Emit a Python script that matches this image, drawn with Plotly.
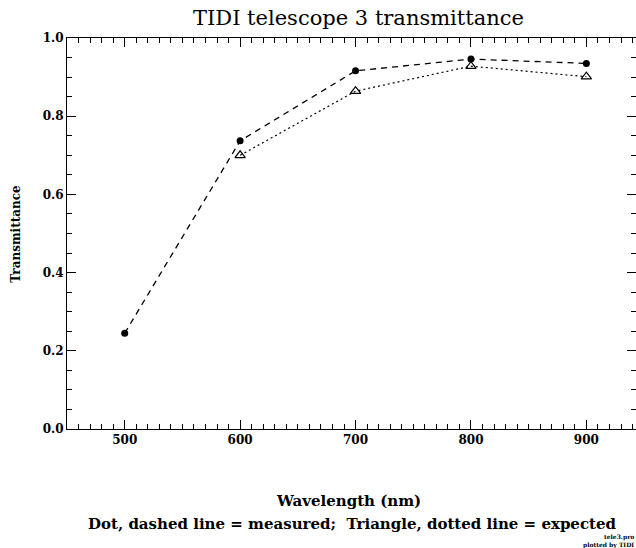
import plotly.graph_objects as go

wavelength = [500, 600, 700, 800, 900]
measured = [0.245, 0.737, 0.916, 0.946, 0.935]
expected_wl = [600, 700, 800, 900]
expected = [0.700, 0.864, 0.928, 0.901]
x_ticks = [500, 600, 700, 800, 900]
y_ticks = [0.0, 0.2, 0.4, 0.6, 0.8, 1.0]

title_text = "TIDI telescope 3 transmittance"
x_title = "Wavelength (nm)"
y_title = "Transmittance"
caption = "Dot, dashed line = measured;  Triangle, dotted line = expected"
footer1 = "tele3.pro"
footer2 = "plotted by TIDI"

serif = "DejaVu Serif"

fig = go.Figure()
fig.add_trace(go.Scatter(
    x=wavelength, y=measured, mode="lines+markers",
    line=dict(color="black", width=1.3, dash="6px,5px"),
    marker=dict(symbol="circle", size=7, color="black"),
    showlegend=False))
fig.add_trace(go.Scatter(
    x=expected_wl, y=expected, mode="lines+markers",
    line=dict(color="black", width=1.2, dash="2px,3px"),
    marker=dict(symbol="triangle-up-open", size=9, color="black", line=dict(width=1.2)),
    showlegend=False))

axis_common = dict(
    showgrid=False, zeroline=False, showline=True, linecolor="black", linewidth=1,
    mirror="allticks", ticks="inside", tickcolor="black", tickwidth=1, ticklen=9,
    tickfont=dict(family=serif, size=12, color="black", weight="bold"),
)
fig.update_xaxes(range=[450, 943], tickvals=x_ticks, ticktext=[str(v) for v in x_ticks],
                 minor=dict(dtick=10, ticklen=5, ticks="inside", tickcolor="black"),
                 **axis_common)
fig.update_yaxes(range=[0, 1.0], tickvals=y_ticks, ticktext=[f"{v:.1f}" for v in y_ticks],
                 minor=dict(dtick=0.05, ticklen=5, ticks="inside", tickcolor="black"),
                 **axis_common)

ann = []
ann.append(dict(text=title_text, x=0.513, y=1.052, xref="paper", yref="paper",
                showarrow=False, xanchor="center", yanchor="middle",
                font=dict(family=serif, size=21, color="black")))
ann.append(dict(text=x_title, x=0.495, y=-0.183, xref="paper", yref="paper",
                showarrow=False, xanchor="center", yanchor="middle",
                font=dict(family=serif, size=15, color="black", weight="bold")))
ann.append(dict(text=caption, x=0.502, y=-0.243, xref="paper", yref="paper",
                showarrow=False, xanchor="center", yanchor="middle",
                font=dict(family=serif, size=15, color="black", weight="bold")))
ann.append(dict(text=y_title, x=-0.091, y=0.5, xref="paper", yref="paper",
                showarrow=False, xanchor="center", yanchor="middle", textangle=-90,
                font=dict(family=serif, size=12, color="black", weight="bold")))
ann.append(dict(text=footer1, x=1.0, y=-0.276, xref="paper", yref="paper",
                showarrow=False, xanchor="right", yanchor="middle",
                font=dict(family=serif, size=6, color="black", weight="bold")))
ann.append(dict(text=footer2, x=1.0, y=-0.296, xref="paper", yref="paper",
                showarrow=False, xanchor="right", yanchor="middle",
                font=dict(family=serif, size=6, color="black", weight="bold")))

fig.update_layout(
    width=636, height=548, autosize=False,
    margin=dict(l=67, r=0, t=38, b=119),
    plot_bgcolor="white", paper_bgcolor="white",
    annotations=ann,
)

fig.write_html("out.html", config={"displayModeBar": False},
               post_script="document.body.style.margin='0';document.body.style.overflow='hidden';")
